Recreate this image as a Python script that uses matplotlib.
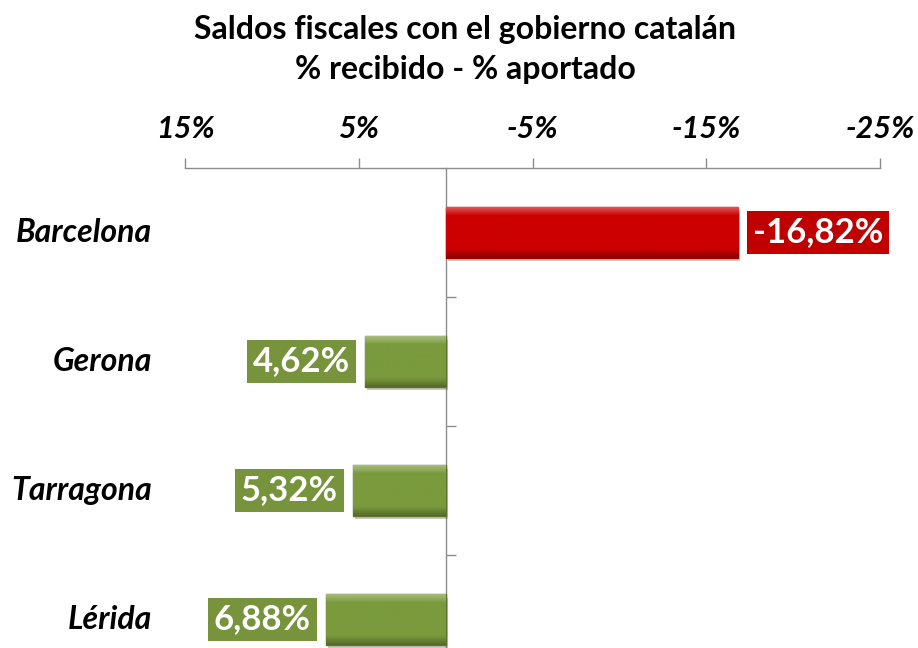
import numpy as np
import matplotlib
matplotlib.use("Agg")
import matplotlib.pyplot as plt
import matplotlib.patheffects as pe
from matplotlib.colors import to_rgb
import matplotlib.transforms as mtransforms

plt.rcParams['font.family'] = ['Lato', 'DejaVu Sans']

title_lines = ["Saldos fiscales con el gobierno catalán", "% recibido - % aportado"]
categories = ["Barcelona", "Gerona", "Tarragona", "Lérida"]
values = [-16.82, 4.62, 5.32, 6.88]
value_labels = ["-16,82%", "4,62%", "5,32%", "6,88%"]
xticks = [15, 5, -5, -15, -25]
xtick_labels = ["15%", "5%", "-5%", "-15%", "-25%"]

RED_BAR = "#CC0000"
RED_BOX = "#C00000"
GREEN_BAR = "#7A9A3C"
GREEN_BOX = "#77933C"

W, H = 918, 648
fig = plt.figure(figsize=(W / 100, H / 100), dpi=100)
fig.patch.set_facecolor("white")
ax = fig.add_axes([185 / W, (H - 684) / H, 695 / W, 516 / H])
ax.set_facecolor("none")

ypos = np.arange(len(categories))
ax.set_xlim(15, -25)
ax.set_ylim(len(categories) - 0.5, -0.5)

def shade(c, f):
    r = np.array(to_rgb(c))
    if f >= 0:
        return tuple(r + (1 - r) * f)
    return tuple(r * (1 + f))

for y, v, lab in zip(ypos, values, value_labels):
    col = RED_BAR if v < 0 else GREEN_BAR
    boxcol = RED_BOX if v < 0 else GREEN_BOX
    bars = ax.barh(y, v, height=0.39, left=0, color=col,
                   edgecolor=shade(col, -0.25), linewidth=1.0, zorder=3)
    b = bars[0]
    b.set_path_effects([pe.SimplePatchShadow(offset=(1.5, -2.5), shadow_rgbFace="#666666", alpha=0.35),
                        pe.Normal()])
    # bevel gradient clipped to the bar
    x0, x1 = sorted([b.get_x(), b.get_x() + b.get_width()])
    yb0, yb1 = b.get_y(), b.get_y() + b.get_height()
    n = 60
    t = np.linspace(0, 1, n)
    base = np.array(to_rgb(col))
    img = np.zeros((n, 2, 3))
    for i, tt in enumerate(t):
        if tt < 0.14:
            c = np.array(shade(col, 0.28 * (1 - tt / 0.14) + 0.05))
        elif tt > 0.82:
            c = np.array(shade(col, -0.30 * (tt - 0.82) / 0.18))
        else:
            c = base
        img[i, :, :] = c
    im = ax.imshow(img, extent=(x0, x1, yb1, yb0), aspect='auto',
                   interpolation='bilinear', zorder=3.5, origin='upper')
    im.set_clip_path(b)
    # value label box
    if v < 0:
        ax.annotate(lab, xy=(v, y), xytext=(11, 0), textcoords="offset points",
                    ha="left", va="center", color="white", fontsize=25,
                    fontweight="bold",
                    bbox=dict(boxstyle="square,pad=0.17", fc=boxcol, ec="none"),
                    zorder=5)
    else:
        ax.annotate(lab, xy=(v, y), xytext=(-11, 0), textcoords="offset points",
                    ha="right", va="center", color="white", fontsize=25,
                    fontweight="bold",
                    bbox=dict(boxstyle="square,pad=0.17", fc=boxcol, ec="none"),
                    zorder=5)

# x axis on top
ax.xaxis.tick_top()
ax.set_xticks(xticks)
ax.set_xticklabels(xtick_labels, fontsize=22, fontweight="bold", fontstyle="italic")
ax.tick_params(axis="x", direction="out", length=7, width=1, color="#8C8C8C", pad=11)

# y axis at zero
ax.spines["left"].set_position(("data", 0))
for s in ["right", "bottom"]:
    ax.spines[s].set_visible(False)
for s in ["left", "top"]:
    ax.spines[s].set_color("#8C8C8C")
    ax.spines[s].set_linewidth(1.0)
ax.set_yticks(ypos[:-1] + 0.5)
ax.set_yticklabels([])
ax.tick_params(axis="y", direction="in", length=7, width=1, color="#8C8C8C")

# category labels
trans = mtransforms.blended_transform_factory(ax.transAxes, ax.transData)
for y, c in zip(ypos, categories):
    ax.text((152 - 185) / 695, y, c, transform=trans, ha="right", va="center",
            fontsize=23, fontweight="bold", fontstyle="italic", color="black",
            clip_on=False)

fig.text(465 / W, 1 - 29 / H, title_lines[0], ha="center", va="center",
         fontsize=23, fontweight="bold")
fig.text(465 / W, 1 - 69 / H, title_lines[1], ha="center", va="center",
         fontsize=23, fontweight="bold")

fig.savefig("out.png", dpi=100)
